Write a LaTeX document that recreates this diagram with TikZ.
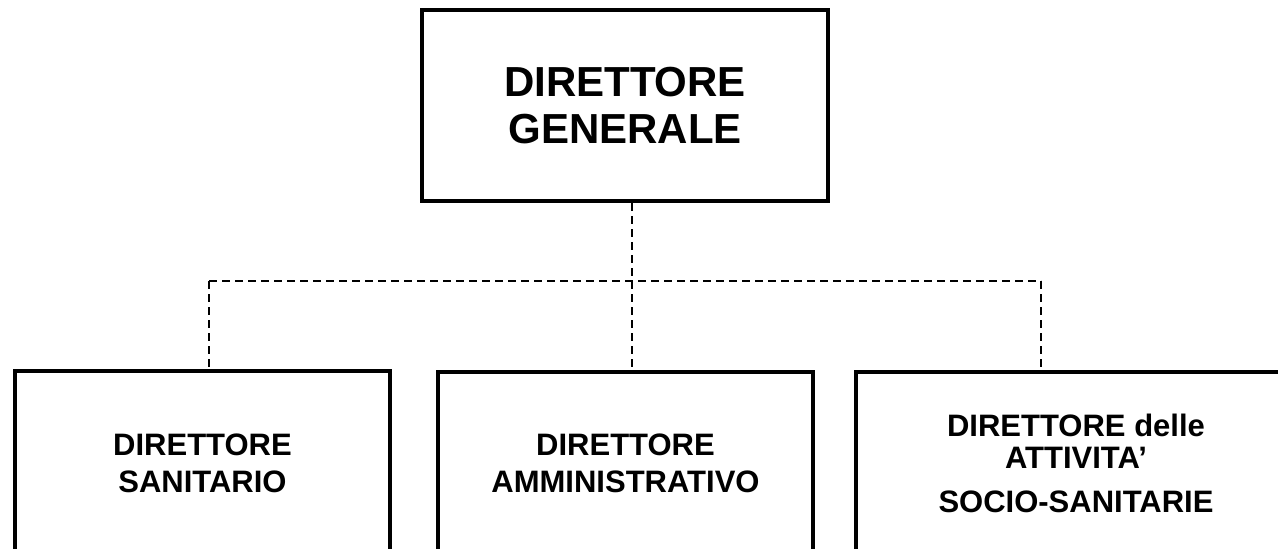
\documentclass[tikz,border=0pt]{standalone}
\usepackage{fontspec}
\setmainfont{Liberation Sans}
\usetikzlibrary{positioning}

\begin{document}
\begin{tikzpicture}[x=1pt, y=1pt,
  box/.style={draw, rectangle, line width=4pt, align=center, inner sep=0pt},
  big/.style={font=\fontsize{42}{47}\selectfont\bfseries},
  small/.style={font=\fontsize{31}{37}\selectfont\bfseries},
  link/.style={draw, dashed, line width=1.3pt, dash pattern=on 8pt off 5pt}]
\useasboundingbox (0,0) rectangle (1278,-549);
\clip (0,0) rectangle (1278,-549);

% vertice
\node (dg) [box, big, minimum width=406pt, minimum height=191pt] at (625,-105.5)
{DIRETTORE\\GENERALE};

% direzione strategica
\node (ds) [box, small, minimum width=375pt, minimum height=184pt] at (202.5,-463)
{DIRETTORE\\SANITARIO};
\node (da) [box, small, minimum width=375pt, minimum height=182pt] at (625.5,-463)
{DIRETTORE\\AMMINISTRATIVO};
\node (dss) [box, small, minimum width=440pt, minimum height=182pt] at (1076,-463)
{DIRETTORE delle\\[-5pt]ATTIVITA’\\[7pt]SOCIO-SANITARIE};

% collegamenti
\coordinate (busL) at (209,-281);
\coordinate (busR) at (1041,-281);
\draw[link] (busL) -- (busR);
\draw[link] (dg.south -| 632,0) -- (da.north -| 632,0);
\draw[link] (busL) -- (busL |- ds.north);
\draw[link] (busR) -- (busR |- dss.north);
\end{tikzpicture}
\end{document}
